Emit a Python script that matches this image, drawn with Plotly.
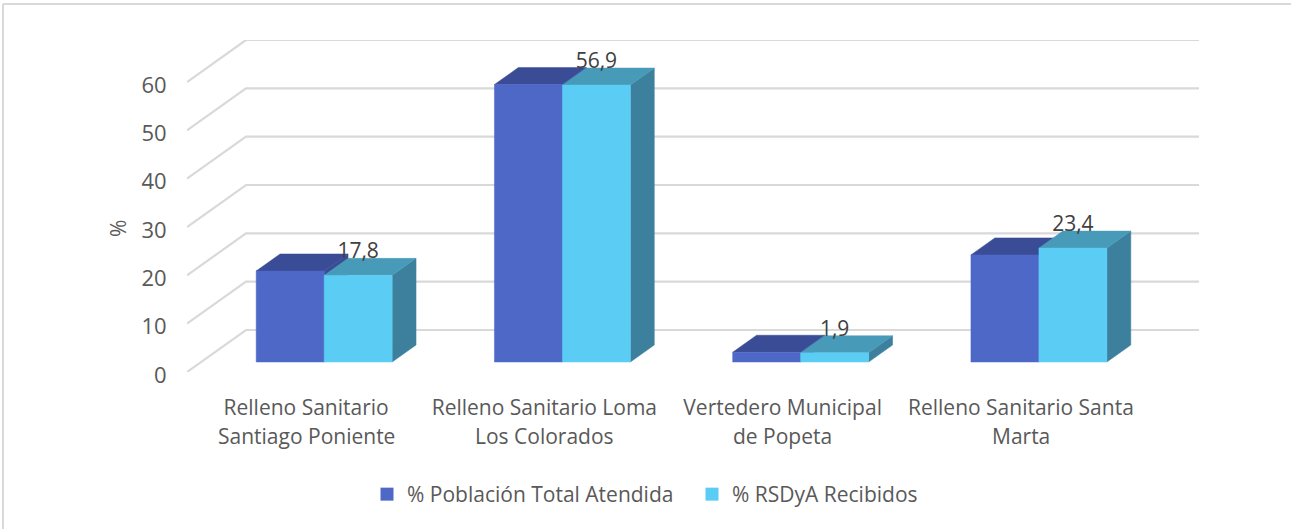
import plotly.graph_objects as go

categories_line1 = ["Relleno Sanitario", "Relleno Sanitario Loma", "Vertedero Municipal", "Relleno Sanitario Santa"]
categories_line2 = ["Santiago Poniente", "Los Colorados", "de Popeta", "Marta"]
poblacion = [18.7, 57.0, 2.0, 22.0]
rsdya = [17.8, 56.9, 1.9, 23.4]
rsdya_labels = ["17,8", "56,9", "1,9", "23,4"]
series_names = ["% Población Total Atendida", "% RSDyA Recibidos"]
y_ticks = [0, 10, 20, 30, 40, 50, 60]

# page geometry (pixels)
W, H = 1291, 529
L, R, T, B = 187, 1199, 40, 372
CAT_PX = 238.3
PX_PER_UNIT = (B - 82) / 60.0
DEPTH_X = 59 / CAT_PX          # wall depth, x units
DEPTH_Y = 42 / PX_PER_UNIT     # wall depth, y units
F0, F1 = 0.238, 0.643          # bar depth span, as fractions of wall depth
BAR_W = 68 / CAT_PX
SHIFT = 4.0 / CAT_PX           # bars sit slightly right of the category centre
BAR_SCALE = 1.007              # front plane of the box is slightly nearer than the wall

BLUE = dict(front="#4E68C8", top="#3A4C96", side="#3A4C96")
CYAN = dict(front="#5BCDF5", top="#489BB8", side="#3C809D")
GRID = "#D9D9D9"
TXT = "#595959"
FONT = "Open Sans"
FS = 21

fig = go.Figure()

# back walls and floor gridlines
for v in y_ticks:
    fig.add_trace(go.Scatter(
        x=[-0.5, -0.5 + DEPTH_X, 3.5 + DEPTH_X], y=[v, v + DEPTH_Y, v + DEPTH_Y],
        mode="lines", line=dict(color=GRID, width=2.2), hoverinfo="skip", showlegend=False))


def poly(xs, ys, color):
    fig.add_trace(go.Scatter(
        x=xs + xs[:1], y=ys + ys[:1], mode="lines", fill="toself", fillcolor=color,
        line=dict(color=color, width=0.5), hoverinfo="skip", showlegend=False))


def box(x0, x1, value, c):
    v = value * BAR_SCALE
    dx0, dx1 = F0 * DEPTH_X, F1 * DEPTH_X
    b0, b1 = F0 * DEPTH_Y, F1 * DEPTH_Y
    # side
    poly([x1 + dx0, x1 + dx1, x1 + dx1, x1 + dx0], [b0, b1, b1 + v, b0 + v], c["side"])
    # top
    poly([x0 + dx0, x1 + dx0, x1 + dx1, x0 + dx1], [b0 + v, b0 + v, b1 + v, b1 + v], c["top"])
    # front
    poly([x0 + dx0, x1 + dx0, x1 + dx0, x0 + dx0], [b0, b0, b0 + v, b0 + v], c["front"])


for i in range(len(poblacion)):
    box(i + SHIFT - BAR_W, i + SHIFT, poblacion[i], BLUE)
    box(i + SHIFT, i + SHIFT + BAR_W, rsdya[i], CYAN)

# data labels
fig.add_trace(go.Scatter(
    x=[i + SHIFT + BAR_W / 2 + F0 * DEPTH_X for i in range(4)],
    y=[v * BAR_SCALE + F0 * DEPTH_Y + 22.5 / PX_PER_UNIT for v in rsdya],
    text=rsdya_labels, mode="text", textposition="middle center",
    textfont=dict(family=FONT, size=FS, color="#404040"), hoverinfo="skip", showlegend=False))

# legend keys
for name, c in zip(series_names, (BLUE, CYAN)):
    fig.add_trace(go.Scatter(
        x=[None], y=[None], mode="markers", name=name,
        marker=dict(symbol="square", size=13, color=c["front"])))

# second lines of the category labels
annotations = [dict(
    x=i, y=0, xref="x", yref="y", text=t, showarrow=False, yshift=-64,
    xanchor="center", yanchor="middle", font=dict(family=FONT, size=FS, color=TXT))
    for i, t in enumerate(categories_line2)]
annotations.append(dict(
    x=(118 - L) / (R - L), y=(B - 229) / (B - T), xref="paper", yref="paper", text="%", showarrow=False,
    textangle=-90, xanchor="center", yanchor="middle", font=dict(family=FONT, size=FS, color=TXT)))


def px(x):
    return (x - L) / (R - L)


def py(y):
    return (B - y) / (B - T)


shapes = [
    dict(type="line", xref="paper", yref="paper", x0=px(3), x1=px(3), y0=py(4), y1=py(H),
         line=dict(color=GRID, width=2)),
    dict(type="line", xref="paper", yref="paper", x0=px(3), x1=px(W), y0=py(4), y1=py(4),
         line=dict(color=GRID, width=2)),
]

fig.update_layout(
    width=W, height=H, paper_bgcolor="white", plot_bgcolor="white",
    margin=dict(l=L, r=W - R, t=T, b=H - B, autoexpand=False),
    font=dict(family=FONT, size=FS, color=TXT),
    annotations=annotations, shapes=shapes,
    legend=dict(orientation="h", x=px(367), y=py(474), xanchor="left", yanchor="top",
                font=dict(family=FONT, size=FS, color=TXT), bgcolor="rgba(0,0,0,0)",
                itemwidth=30, entrywidth=280, entrywidthmode="pixels"),
    xaxis=dict(range=[-0.5, 3.5 + DEPTH_X], tickvals=[0, 1, 2, 3], ticktext=categories_line1,
               showgrid=False, zeroline=False, showline=False, ticks="outside", ticklen=17,
               tickcolor="rgba(0,0,0,0)", tickangle=0, tickfont=dict(family=FONT, size=FS, color=TXT)),
    yaxis=dict(range=[0, 60 + DEPTH_Y], tickvals=y_ticks, ticktext=[str(v) for v in y_ticks],
               showgrid=False, zeroline=False, showline=False, ticks="outside", ticklen=15,
               ticklabelshift=3, tickcolor="rgba(0,0,0,0)", tickfont=dict(family=FONT, size=22, color=TXT)),
)

fig.write_html("out.html", config={"displayModeBar": False},
               post_script="document.body.style.margin='0';document.body.style.overflow='hidden';")
